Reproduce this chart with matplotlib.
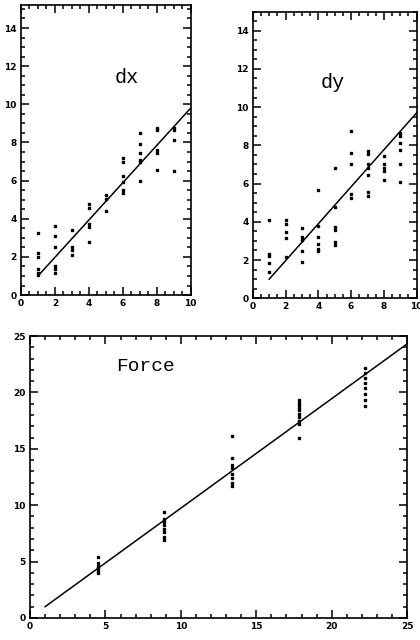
import matplotlib.pyplot as plt
from matplotlib.ticker import MultipleLocator

# dx panel: sample columns and measured values
dx_x = [1]*6 + [2]*6 + [3]*4 + [4]*5 + [5]*3 + [6]*6 + [7]*6 + [8]*5 + [9]*4
dx_y = [3.26, 2.18, 2.0, 1.35, 1.17, 1.05,
        3.61, 3.09, 2.5, 1.53, 1.36, 1.13,
        3.40, 2.53, 2.36, 2.09,
        4.76, 4.54, 3.75, 3.58, 2.79,
        5.24, 5.06, 4.40,
        7.16, 6.98, 6.23, 5.93, 5.50, 5.36,
        8.47, 7.94, 7.45, 7.10, 6.98, 5.97,
        8.78, 8.67, 7.63, 7.45, 6.54,
        8.78, 8.64, 8.12, 6.51]
dx_fit_x = [1, 10]
dx_fit_y = [1.0, 9.8]

# dy panel
dy_x = [1]*5 + [2]*5 + [3]*5 + [4]*6 + [5]*6 + [6]*5 + [7]*7 + [8]*5 + [9]*6
dy_y = [4.08, 2.32, 2.19, 1.84, 1.37,
        4.08, 3.87, 3.49, 3.15, 2.14,
        3.70, 3.18, 3.04, 2.48, 1.88,
        5.65, 3.79, 3.21, 2.86, 2.57, 2.45,
        6.79, 4.78, 3.73, 3.56, 2.92, 2.80,
        8.77, 7.60, 7.0, 5.44, 5.23,
        7.69, 7.52, 7.0, 6.82, 6.44, 5.57, 5.35,
        7.43, 7.03, 6.82, 6.65, 6.17,
        8.65, 8.47, 8.13, 7.73, 7.0, 6.09]
dy_fit_x = [1, 10]
dy_fit_y = [1.0, 9.7]

# Force panel
f_x = [4.5]*6 + [8.9]*8 + [13.4]*8 + [17.8]*10 + [22.2]*8
f_y = [5.4, 4.9, 4.6, 4.4, 4.2, 4.0,
       9.4, 8.8, 8.5, 8.2, 7.9, 7.6, 7.2, 6.9,
       16.1, 14.2, 13.6, 13.3, 12.8, 12.4, 12.0, 11.7,
       19.3, 19.1, 18.9, 18.6, 18.4, 18.1, 17.8, 17.5, 17.2, 16.0,
       22.2, 21.7, 21.25, 20.8, 20.4, 19.9, 19.3, 18.8]
f_fit_x = [1, 25]
f_fit_y = [1.0, 24.3]

label_font = ['Liberation Mono', 'DejaVu Sans Mono']


def style_axes(ax, major, minor):
    ax.xaxis.set_major_locator(MultipleLocator(major))
    ax.xaxis.set_minor_locator(MultipleLocator(minor))
    ax.yaxis.set_major_locator(MultipleLocator(major))
    ax.yaxis.set_minor_locator(MultipleLocator(minor))
    ax.tick_params(which='both', direction='in', top=True, right=True,
                   width=1.1, colors='black')
    ax.tick_params(which='major', length=5.5, labelsize=6.5, pad=3)
    ax.tick_params(which='minor', length=2.8)
    for lbl in ax.get_xticklabels() + ax.get_yticklabels():
        lbl.set_fontweight('bold')
    for sp in ax.spines.values():
        sp.set_linewidth(1.2)


fig = plt.figure(figsize=(4.2, 6.4), dpi=100)

ax1 = fig.add_axes([0.05, 0.539, 0.404, 0.453])
ax1.plot(dx_x, dx_y, 's', color='black', markersize=1.8)
ax1.plot(dx_fit_x, dx_fit_y, color='black', linewidth=1.1)
ax1.set_xlim(0, 10)
ax1.set_ylim(0, 15.2)
style_axes(ax1, 2, 0.5)
ax1.text(6.25, 11.4, 'dx', fontsize=14.5, family=label_font, ha='center', va='center')

ax2 = fig.add_axes([0.602, 0.534, 0.390, 0.448])
ax2.plot(dy_x, dy_y, 's', color='black', markersize=1.8)
ax2.plot(dy_fit_x, dy_fit_y, color='black', linewidth=1.1)
ax2.set_xlim(0, 10)
ax2.set_ylim(0, 15)
style_axes(ax2, 2, 0.5)
ax2.text(4.9, 11.3, 'dy', fontsize=14.5, family=label_font, ha='center', va='center')

ax3 = fig.add_axes([0.0714, 0.0344, 0.898, 0.4406])
ax3.plot(f_x, f_y, 's', color='black', markersize=1.8)
ax3.plot(f_fit_x, f_fit_y, color='black', linewidth=1.1)
ax3.set_xlim(0, 25)
ax3.set_ylim(0, 25)
style_axes(ax3, 5, 1)
ax3.text(5.7, 22.3, 'Force', fontsize=14, family=label_font, ha='left', va='center')

fig.savefig('out.png', dpi=100)
